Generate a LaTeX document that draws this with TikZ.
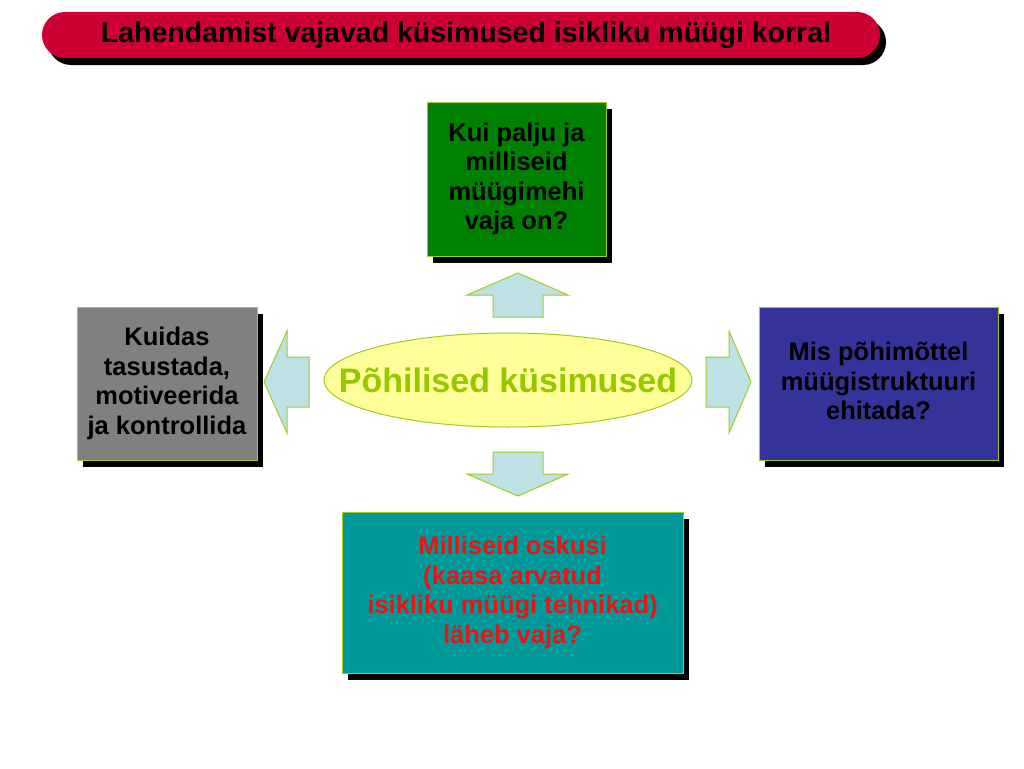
\documentclass[tikz,border=0pt]{standalone}
\usepackage{fontspec}
\setmainfont{Liberation Sans}
\usetikzlibrary{shapes.geometric,shadows}
\definecolor{titlered}{RGB}{204,0,51}
\definecolor{edgegreen}{RGB}{160,205,30}
\definecolor{arrowblue}{RGB}{190,225,230}
\definecolor{boxgreen}{RGB}{0,128,0}
\definecolor{boxgray}{RGB}{128,128,128}
\definecolor{boxblue}{RGB}{51,51,153}
\definecolor{boxteal}{RGB}{0,153,153}
\definecolor{ovalyellow}{RGB}{255,255,153}
\definecolor{ovaltext}{RGB}{150,200,0}
\definecolor{asktext}{RGB}{235,20,20}
\begin{document}
\begin{tikzpicture}[x=1pt, y=-1pt,
	blackshadow/.style={drop shadow={shadow xshift=6pt, shadow yshift=-7pt, opacity=1, fill=black}},
	askbox/.style={rectangle, draw=edgegreen, line width=1pt, align=center, inner sep=0pt,
		font=\fontsize{25.5}{29.5}\selectfont\bfseries, blackshadow},
	blockarrow/.style={draw=edgegreen, line width=1pt, fill=arrowblue}]
	\useasboundingbox (0,0) rectangle (1024,768);
	% Title bar
	\node[fill=titlered, rounded corners=23pt, minimum width=838pt, minimum height=46pt, inner sep=0pt,
		blackshadow, font=\fontsize{28.5}{30}\selectfont\bfseries] (title) at (461,35)
		{\hspace*{10pt}Lahendamist vajavad küsimused isikliku müügi korral};
	
	% Middle
	\node[ellipse, draw=edgegreen, line width=1pt, fill=ovalyellow, minimum width=368pt, minimum height=94pt,
		label={[text=ovaltext, font=\fontsize{34}{38}\selectfont\bfseries]center:Põhilised küsimused}] (main) at (508,380) {};
	
	% Boxes around
	\node[askbox, fill=boxgreen, minimum width=179pt, minimum height=154pt] (howmany) at (516.5,179)
		{Kui palju ja\\milliseid\\müügimehi\\vaja on?};
	\node[askbox, fill=boxgray, minimum width=180pt, minimum height=153pt] (reward) at (167,383.5)
		{Kuidas\\tasustada,\\motiveerida\\ja kontrollida};
	\node[askbox, fill=boxblue, minimum width=239pt, minimum height=153pt] (structure) at (878.5,383.5)
		{Mis põhimõttel\\müügistruktuuri\\ehitada?\vphantom{g}};
	\node[askbox, fill=boxteal, minimum width=341pt, minimum height=161pt, text=asktext] (skills) at (512.5,592.5)
		{Milliseid oskusi\\(kaasa arvatud\\isikliku müügi tehnikad)\\läheb vaja?};
	
	% Block arrows
	\draw[blockarrow] (518,273) -- (568,295) -- (543,295) -- (543,317) -- (493,317) -- (493,295) -- (467,295) -- cycle;
	\draw[blockarrow] (518,496) -- (568,474) -- (543,474) -- (543,452) -- (493,452) -- (493,474) -- (467,474) -- cycle;
	\draw[blockarrow] (264,382) -- (287,331) -- (287,357) -- (309,357) -- (309,407) -- (287,407) -- (287,433) -- cycle;
	\draw[blockarrow] (751,382) -- (729,331) -- (729,357) -- (706,357) -- (706,407) -- (729,407) -- (729,433) -- cycle;
\end{tikzpicture}
\end{document}
